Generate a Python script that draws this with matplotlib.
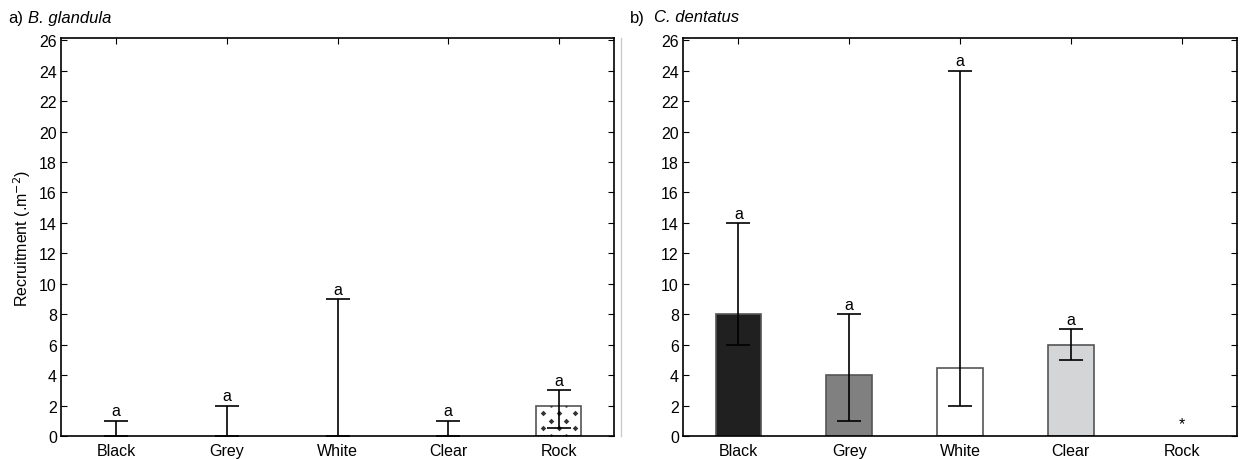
import matplotlib
matplotlib.use("Agg")
import matplotlib.pyplot as plt
import numpy as np
from matplotlib.lines import Line2D

plt.rcParams['font.family'] = ['Liberation Sans', 'DejaVu Sans']

categories = ["Black", "Grey", "White", "Clear", "Rock"]

# Panel a: B. glandula
a_vals = [0, 0, 0, 0, 2]
a_low = [0, 0, 0, 0, 0.5]
a_high = [1, 2, 9, 1, 3]
a_letters = ["a", "a", "a", "a", "a"]

# Panel b: C. dentatus
b_vals = [8, 4, 4.5, 6, 0]
b_low = [6, 1, 2, 5, 0]
b_high = [14, 8, 24, 7, 0]
b_letters = ["a", "a", "a", "a", "*"]

b_colors = ["#202020", "#808080", "#ffffff", "#d4d5d7", "#ffffff"]
a_colors = ["#ffffff", "#ffffff", "#ffffff", "#ffffff", "#ffffff"]

yticks = list(range(0, 27, 2))

fig = plt.figure(figsize=(12.41, 4.6), dpi=100)
axa = fig.add_axes([61/1241, 23/460, 553/1241, 398/460])
axb = fig.add_axes([683/1241, 23/460, 554/1241, 398/460])

def draw(ax, vals, low, high, letters, colors, show_bar):
    x = np.arange(len(categories))
    bars = []
    for i, (v, c, s) in enumerate(zip(vals, colors, show_bar)):
        if s and v > 0:
            b = ax.bar(x[i], v, width=0.41, color=c, edgecolor="#555555", linewidth=1.2, zorder=2)
            bars.append(b[0])
        else:
            bars.append(None)
    for i in range(len(categories)):
        if high[i] > low[i]:
            center = vals[i] if vals[i] > 0 else low[i]
            ax.errorbar(x[i], center,
                        yerr=[[center - low[i]], [high[i] - center]],
                        fmt="none", ecolor="black", elinewidth=1.2, capsize=8.5,
                        capthick=1.2, zorder=3)
        ytxt = high[i] + 0.15 if high[i] > 0 else 0.35
        ax.text(x[i], ytxt, letters[i], ha="center", va="bottom", fontsize=11.5)
    ax.set_xlim(-0.5, 4.5)
    ax.set_ylim(0, 26.15)
    ax.set_yticks(yticks)
    ax.set_xticks(x)
    ax.set_xticklabels(categories)
    ax.tick_params(axis="y", direction="in", left=True, right=True, length=4, labelsize=11.5, pad=3)
    ax.tick_params(axis="x", direction="in", bottom=False, top=True, length=4, labelsize=11.5, pad=5)
    for sp in ax.spines.values():
        sp.set_linewidth(1.2)
    return bars

bars_a = draw(axa, a_vals, a_low, a_high, a_letters, a_colors, [False, False, False, False, True])
draw(axb, b_vals, b_low, b_high, b_letters, b_colors, [True, True, True, True, False])

# dotted pattern on Rock bar in panel a
rb = bars_a[4]
bx, bw, bh = rb.get_x(), rb.get_width(), rb.get_height()
px, py = [], []
for r, fy in enumerate([0.25, 0.5, 0.75]):
    fxs = [0.15, 0.5, 0.85] if r % 2 == 0 else [0.33, 0.67]
    for fx in fxs:
        px.append(bx + fx * bw)
        py.append(fy * bh)
sc = axa.scatter(px, py, marker="D", s=8, color="#333333", zorder=2.5, linewidths=0)
sc.set_clip_path(rb)
px2 = [bx + 0.33 * bw, bx + 0.67 * bw, bx + 0.33 * bw, bx + 0.67 * bw]
py2 = [0.98 * bh, 0.98 * bh, 0.02 * bh, 0.02 * bh]
sc2 = axa.scatter(px2, py2, marker="o", s=3, color="#333333", zorder=2.5, linewidths=0)
sc2.set_clip_path(rb)

axa.set_ylabel("Recruitment (.m$^{-2}$)", fontsize=11.5, labelpad=4)

fig.text(8/1241, 1 - 18/460, "a)", fontsize=12, va="center", ha="left")
fig.text(28/1241, 1 - 18/460, "B. glandula", fontsize=12, va="center", ha="left", style="italic")
fig.text(630/1241, 1 - 18/460, "b)", fontsize=12, va="center", ha="left")
fig.text(654/1241, 1 - 18/460, "C. dentatus", fontsize=12, va="center", ha="left", style="italic")

fig.add_artist(Line2D([621/1241, 621/1241], [23/460, 421/460], color="#cccccc", linewidth=1))

fig.savefig("out.png", dpi=100)
